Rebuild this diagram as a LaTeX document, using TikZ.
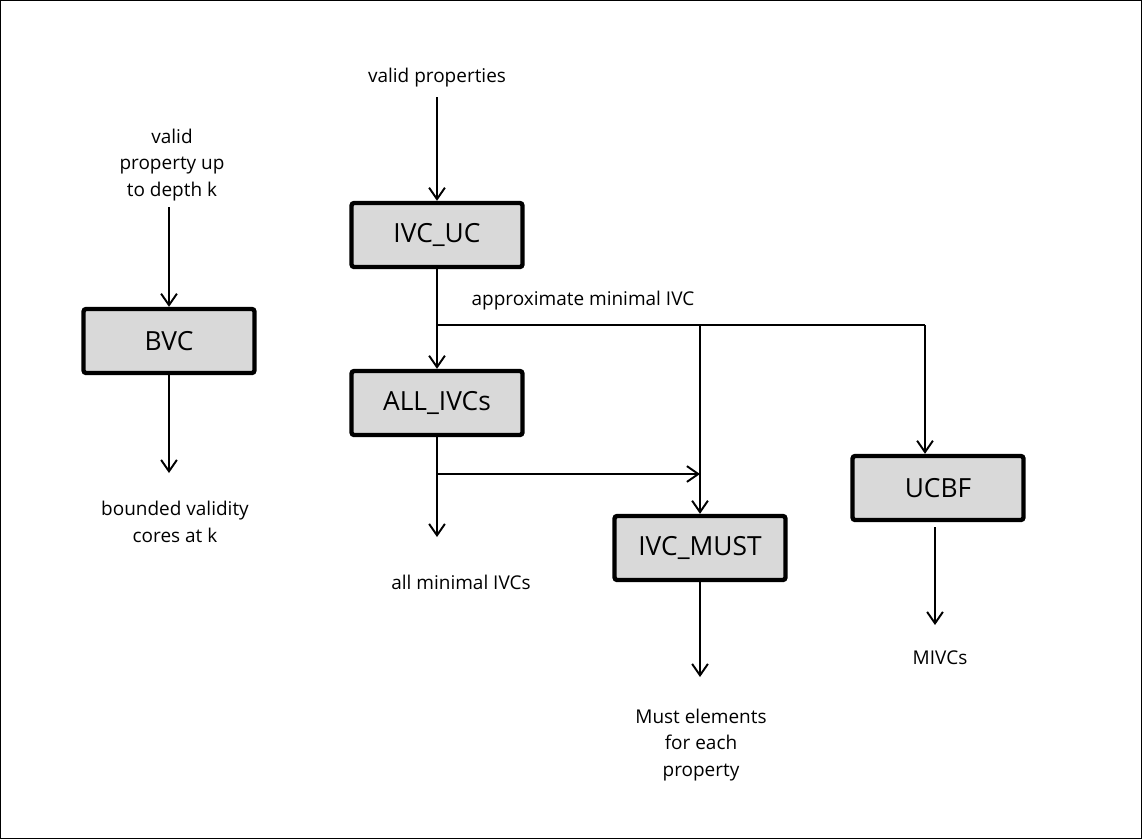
\documentclass[tikz,border=0pt]{standalone}
\usepackage{fontspec}
\setmainfont{Open Sans}
\usetikzlibrary{arrows.meta}

\begin{document}
\begin{tikzpicture}[x=0.02cm,y=-0.02cm,line width=1.1pt,>={Straight Barb[length=6.5pt,width=9pt]}]
            \tikzstyle{block}=[rectangle,draw=black,fill=black!15,rounded corners=1.5pt,line width=2.5pt,minimum width=3.42cm,minimum height=1.28cm,inner sep=0pt,font=\fontsize{15}{18}\selectfont]
            \tikzstyle{note}=[align=center,inner sep=0pt,font=\fontsize{10.8}{15}\selectfont]
                \useasboundingbox (0,0) rectangle (1142,839);
                \draw[line width=0.6pt] (0.5,0.5) rectangle (1141.5,838.5);

                \node[block] (BVC) at (169, 341){BVC};
                \node[block] (IVC-UC) at (437, 235){IVC\_UC};
                \node[block] (ALL-IVCs) at (437, 403){ALL\_IVCs};
                \node[block] (IVC-MUST) at (700, 548){IVC\_MUST};
                \node[block] (UCBF) at (938, 488){UCBF};

                \node[note] (T-1) at (437, 78){valid properties};
                \node[note] (T-2) at (172, 165){valid\\property up\\to depth k};
                \node[note] (T-3) at (175, 522){bounded validity\\cores at k};
                \node[note] (T-4) at (583, 301){approximate minimal IVC};
                \node[note] (T-5) at (461, 582){all minimal IVCs};
                \node[note] (T-6) at (701, 745){Must elements\\for each\\property};
                \node[note] (T-7) at (940, 658){MIVCs};

                \coordinate (P-1) at (437, 97);
                \coordinate (P-2) at (169, 207);
                \coordinate (P-3) at (169, 473);
                \coordinate (P-4) at (437, 537);
                \coordinate (P-5) at (700, 677);
                \coordinate (P-6) at (935, 625);
                \coordinate (P-7) at (935, 527);
                \coordinate (J-1) at (437, 325);
                \coordinate (J-2) at (700, 325);
                \coordinate (J-3) at (925, 325);
                \coordinate (J-4) at (437, 474);
                \coordinate (J-5) at (700, 474);

                \foreach \from/\to in {P-1/IVC-UC, P-2/BVC, BVC/P-3, IVC-UC/ALL-IVCs, J-2/IVC-MUST, ALL-IVCs/P-4, J-4/J-5, IVC-MUST/P-5, P-7/P-6}
                    \draw[->] (\from) -- (\to);

                \draw (J-1) -- (J-3);
                \draw[->] (J-3) -- (J-3 |- UCBF.north);
        \end{tikzpicture}
\end{document}
